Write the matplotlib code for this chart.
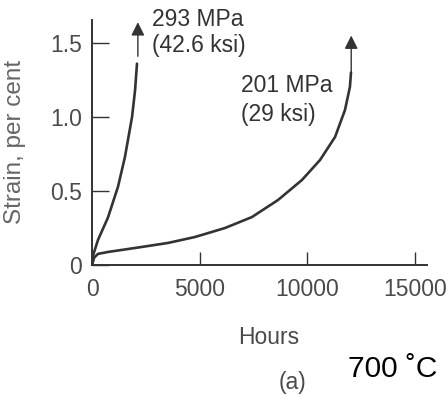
import matplotlib
matplotlib.use("Agg")
import matplotlib.pyplot as plt

plt.rcParams['font.family'] = ['Liberation Sans', 'DejaVu Sans']

# creep curves (hours, strain in per cent)
hours_293 = [0, 60, 280, 740, 1210, 1530, 1860, 2000, 2090]
strain_293 = [0, 0.07, 0.17, 0.32, 0.53, 0.73, 1.00, 1.18, 1.36]
arrow_293 = (2130, 1.41, 1.64)   # x, arrow start, arrow tip

hours_201 = [0, 100, 280, 740, 2000, 3530, 4780, 6180, 7430, 8640, 9750,
             10590, 11290, 11750, 11980, 12030]
strain_201 = [0, 0.05, 0.075, 0.088, 0.115, 0.149, 0.189, 0.25, 0.324, 0.439,
              0.574, 0.709, 0.865, 1.047, 1.203, 1.30]
arrow_201 = (12040, 1.30, 1.55)

xticks = [0, 5000, 10000, 15000]
yticks = [0, 0.5, 1.0, 1.5]
ytick_labels = ["0", "0.5", "1.0", "1.5"]

dark = "#333333"
grey = "#4a4a4a"

fig = plt.figure(figsize=(4.48, 3.97), dpi=100)
ax = fig.add_axes([92/448, 1 - 265/397, (427-92)/448, (265-20)/397])

ax.plot(hours_293, strain_293, color=dark, lw=1.9, solid_capstyle='round')
ax.plot(hours_201, strain_201, color=dark, lw=1.9, solid_capstyle='round')

for x, y0, y1 in (arrow_293, arrow_201):
    ax.annotate("", xy=(x, y1), xytext=(x, y0),
                arrowprops=dict(arrowstyle='-|>', color=dark, lw=1.0,
                                mutation_scale=20, shrinkA=0, shrinkB=0))

ax.text(2790, 1.655, "293 MPa", color=dark, fontsize=16.5, va='center', ha='left')
ax.text(2790, 1.48, "(42.6 ksi)", color=dark, fontsize=16.5, va='center', ha='left')
ax.text(6920, 1.21, "201 MPa", color=dark, fontsize=16.5, va='center', ha='left')
ax.text(6920, 1.02, "(29 ksi)", color=dark, fontsize=16.5, va='center', ha='left')

ax.set_xlim(0, 15560)
ax.set_ylim(0, 1.655)
ax.set_xticks(xticks)
ax.set_xticklabels([str(t) for t in xticks])
ax.set_yticks(yticks)
ax.set_yticklabels(ytick_labels)

for side in ("top", "right"):
    ax.spines[side].set_visible(False)
for side in ("left", "bottom"):
    ax.spines[side].set_color(dark)
    ax.spines[side].set_linewidth(1.4)

ax.tick_params(axis='x', direction='in', length=9.5, width=1.0, color=dark,
               labelsize=16.5, labelcolor=grey, pad=9)
ax.tick_params(axis='y', direction='in', length=12, width=1.0, color=dark,
               labelsize=16.5, labelcolor=grey, pad=7)

fig.text(15/448, 1 - 142/397, "Strain, per cent", rotation=90, color="#666666",
         fontsize=17.5, ha='center', va='center')
fig.text(269/448, 1 - 338/397, "Hours", color=grey, fontsize=16.5,
         ha='center', va='center')
fig.text(293/448, 1 - 383/397, "(a)", color=grey, fontsize=16.5,
         ha='center', va='center')
fig.text(393/448, 1 - 369/397, "700 ˚C", color="black", fontsize=21.5,
         ha='center', va='center')

fig.savefig("out.png", dpi=100, facecolor="white")
